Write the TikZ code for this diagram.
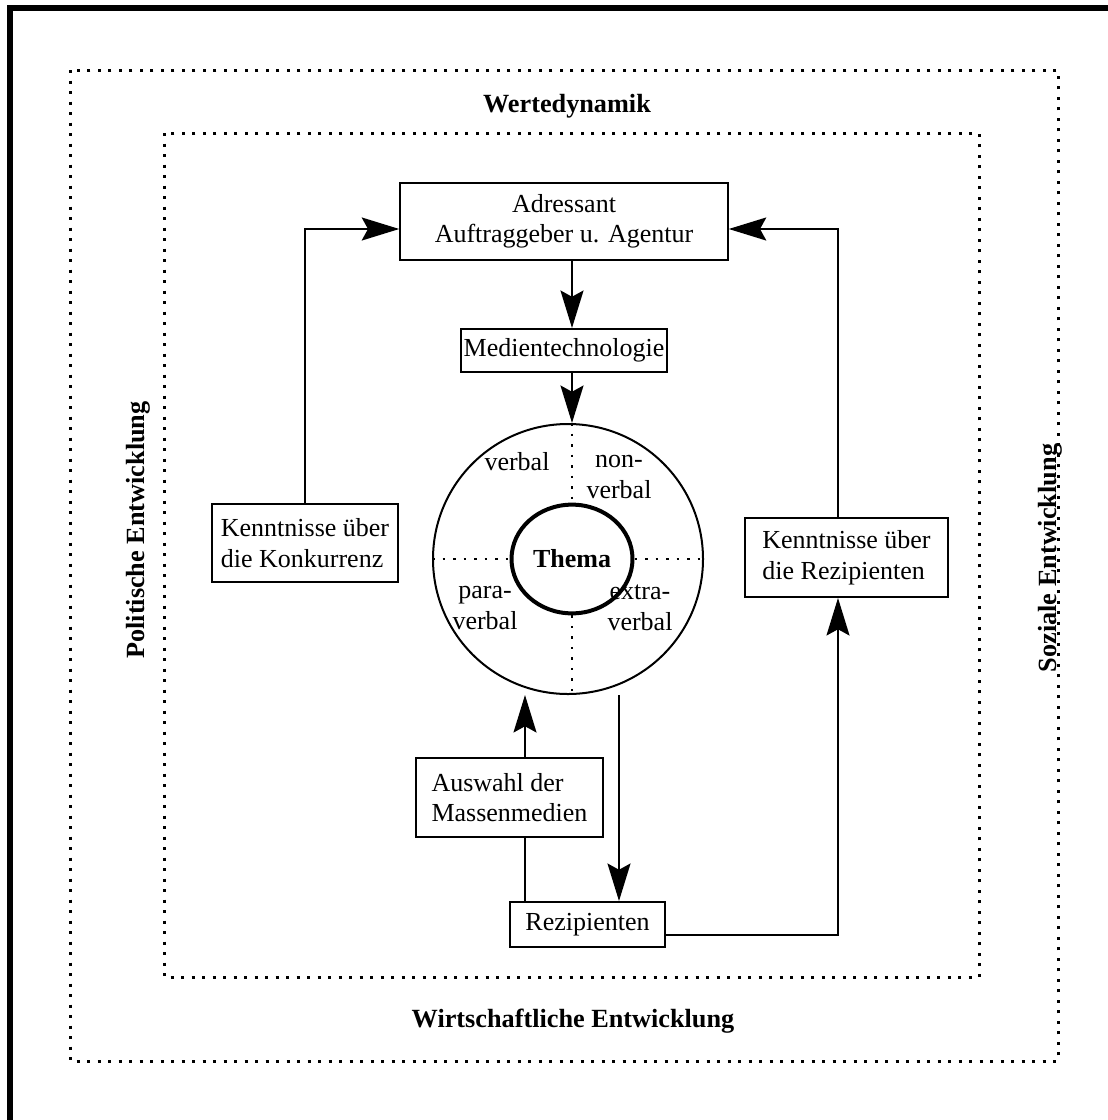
\documentclass[tikz,border=0pt]{standalone}
\usepackage{fontspec}
\setmainfont{Liberation Serif}
\usepackage{tikz}
\usetikzlibrary{shapes.geometric}
\usetikzlibrary{arrows.meta}
\usetikzlibrary{calc}
\newcommand{\schrift}{\fontsize{10.4pt}{12.2pt}\selectfont}
\tikzstyle{kasten}=[
        draw,
        rectangle,
        line width=0.8pt,
        inner sep=3pt,
        fill=white
]
\tikzstyle{rahmen}=[line width=1.2pt,dash pattern=on 1.2pt off 3pt]
\tikzstyle{teiler}=[line width=1pt,dash pattern=on 1pt off 3.2pt]
\tikzstyle{titel}=[font=\fontsize{10.5pt}{12.5pt}\selectfont\bfseries]
\tikzstyle{suite}=[-{Stealth[length=15pt,width=9.2pt,inset=2.5pt]},line width=0.8pt]
\tikzstyle{strich}=[line width=0.8pt]

\begin{document}
\begin{tikzpicture}[x=0.4pt,y=-0.4pt,font=\schrift]
\useasboundingbox (0,0) rectangle (1107,1120);
%Rahmen
\draw[line width=2.4pt] (10,1130) -- (10,8) -- (1117,8);
\draw[rahmen] (70,70) rectangle (1058,1061);
\draw[rahmen] (164,133) rectangle (979,977);
\node[titel] (wert) at (567,106) {Wertedynamik};
\node[titel] (wirt) at (573,1021) {Wirtschaftliche Entwicklung};
\node[titel,rotate=90] (poli) at (138,530) {Politische Entwicklung};
\node[titel,rotate=90] (sozi) at (1050,558) {Soziale Entwicklung};
%Kaesten
\node[kasten,minimum width=131pt,minimum height=31pt,align=center] (adr) at (564,221.5) {Adressant\\Auftraggeber u. Agentur};
\node[kasten,inner xsep=1pt,minimum width=81pt,minimum height=17.2pt] (med) at (564,350.5) {Medientechnologie};
\node[draw,circle,line width=0.8pt,minimum size=108pt,inner sep=0pt] (kreis) at (568,559) {};
\node[ellipse,draw,line width=1.6pt,minimum width=48.4pt,minimum height=43.5pt,inner sep=0pt,font=\schrift\bfseries] (thema) at (572,559) {Thema};
\node[kasten,minimum width=74.4pt,minimum height=31.2pt,align=left] (konk) at (305,543) {Kenntnisse über\\die Konkurrenz};
\node[kasten,minimum width=81.2pt,minimum height=31.6pt,align=left] (kr) at (846.5,557.5) {Kenntnisse über\\die Rezipienten};
\node[kasten,minimum width=74.8pt,minimum height=31.6pt,align=left] (ausw) at (509.5,797.5) {Auswahl der\\Massenmedien};
\node[kasten,minimum width=62pt,minimum height=18pt] (rez) at (587.5,924.5) {Rezipienten};
%Sektoren
\draw[teiler] (thema.north |- kreis.north) -- (thema.north);
\draw[teiler] (thema.south) -- (thema.south |- kreis.south);
\draw[teiler] (kreis.west) -- (thema.west);
\draw[teiler] (thema.east) -- (kreis.east);
\node (verb) at (517,462) {verbal};
\node[align=center] (nonv) at (619,477) {non-\\verbal};
\node[align=center] (para) at (485,608) {para-\\verbal};
\node[align=center] (extr) at (640,608) {extra-\\verbal};
%Pfeile
\coordinate (li) at (305,229);
\coordinate (re) at (838,229);
\coordinate (ru) at (838,935);
\coordinate (au) at (525,0);
\coordinate (ab) at (619,0);
\draw[suite] (adr.south -| thema.north) -- (med.north -| thema.north);
\draw[suite] (med.south -| thema.north) -- (thema.north |- kreis.north);
\draw[suite] (konk.north) |- (adr.west |- li);
\draw[suite] (kr.north -| re) |- (adr.east |- re);
\draw[suite] (ausw.north -| au) -- (kreis.south -| au);
\draw[strich] (ausw.south -| au) -- (rez.north -| au);
\draw[suite] (kreis.south -| ab) -- (rez.north -| ab);
\draw[suite] (rez.east |- ru) -| (kr.south -| ru);
\end{tikzpicture}
\end{document}
